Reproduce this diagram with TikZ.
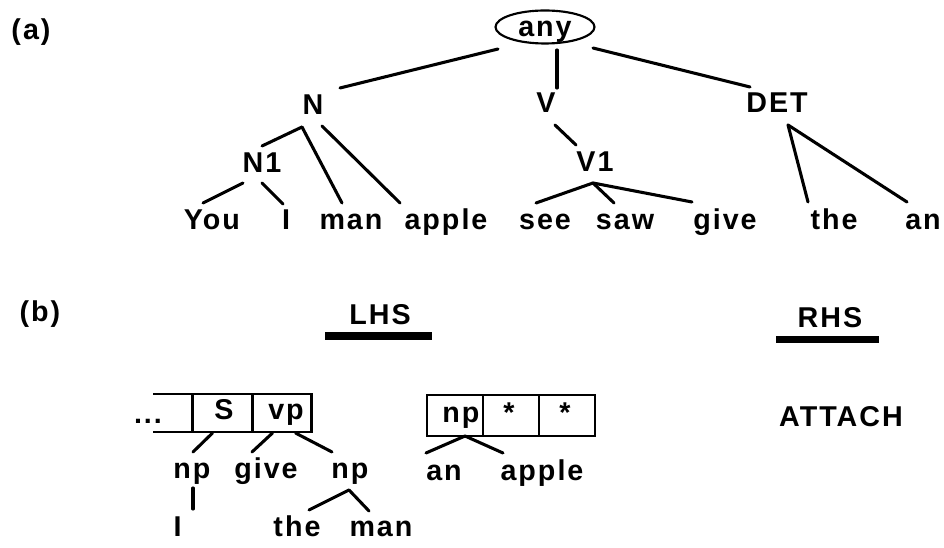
\documentclass[tikz,border=0pt]{standalone}
\usepackage{fontspec}
\newfontfamily\lbf{Liberation Sans}[LetterSpace=7]
\usetikzlibrary{shapes.geometric}
\begin{document}
\begin{tikzpicture}[x=0.75pt,y=-0.75pt,
  lbl/.style={font=\lbf\bfseries\fontsize{21.5}{25}\selectfont, inner sep=0pt, anchor=base, text height=15pt, text depth=0pt},
  tl/.style={line width=2.3pt, line cap=round},
  bl/.style={line width=1.6pt},
  cellbox/.style={draw, line width=1.6pt, minimum height=38*0.75pt, inner sep=0pt, outer sep=0pt},
  rcellbox/.style={draw, line width=1.6pt, minimum width=56*0.75pt, minimum height=41*0.75pt, inner sep=0pt, outer sep=0pt},
  barbox/.style={fill=black, inner sep=0pt}]
\useasboundingbox (0,0) rectangle (944,548);
% ---------- (a) ----------
\node[lbl] (la) at (31,40) {(a)};
\node[draw, ellipse, line width=1.6pt, minimum width=99*0.75pt, minimum height=33*0.75pt, inner sep=0pt,
      font=\lbf\bfseries\fontsize{21.5}{25}\selectfont, text height=15pt, text depth=0pt] (any) at (545,27) {any};
\node[lbl] (N) at (313,115) {N};
\node[lbl] (V) at (546,113) {V};
\node[lbl] (DET) at (777,113) {DET};
\node[lbl] (N1) at (262,173) {N1};
\node[lbl] (V1) at (595,172) {V1};
\node[lbl] (you) at (212,230) {You};
\node[lbl] (i) at (286,230) {I};
\node[lbl] (man) at (351,230) {man};
\node[lbl] (apple) at (446,230) {apple};
\node[lbl] (see) at (545,230) {see};
\node[lbl] (saw) at (625,230) {saw};
\node[lbl] (give) at (725,230) {give};
\node[lbl] (the) at (834,230) {the};
\node[lbl] (an) at (923,230) {an};
\draw[tl] ([shift={(-47,22)}]any.center) -- ([shift={(27,-27)}]N.base);
\draw[tl] ([shift={(12,23)}]any.center) -- ([shift={(11,-25)}]V.base);
\draw[tl] ([shift={(48,21)}]any.center) -- ([shift={(-27,-26)}]DET.base);
\draw[tl] ([shift={(-11,12)}]N.base) -- ([shift={(0,-27)}]N1.base);
\draw[tl] ([shift={(-11,12)}]N.base) -- ([shift={(-9,-27)}]man.base);
\draw[tl] ([shift={(9,11)}]N.base) -- ([shift={(-46,-27)}]apple.base);
\draw[tl] ([shift={(-19,10)}]N1.base) -- ([shift={(-9,-27)}]you.base);
\draw[tl] ([shift={(0,10)}]N1.base) -- ([shift={(-3,-26)}]i.base);
\draw[tl] ([shift={(9,12)}]V.base) -- ([shift={(-19,-27)}]V1.base);
\draw[tl] ([shift={(-2,11)}]V1.base) -- ([shift={(-9,-27)}]see.base);
\draw[tl] ([shift={(-2,11)}]V1.base) -- ([shift={(-11,-27)}]saw.base);
\draw[tl] ([shift={(-2,11)}]V1.base) -- ([shift={(-33,-28)}]give.base);
\draw[tl] ([shift={(11,12)}]DET.base) -- ([shift={(-26,-28)}]the.base);
\draw[tl] ([shift={(11,12)}]DET.base) -- ([shift={(-16,-28)}]an.base);
% ---------- (b) ----------
\node[lbl] (lb) at (40,322) {(b)};
\node[lbl] (lhs) at (380,325) {LHS};
\node[barbox, minimum width=107*0.75pt, minimum height=8*0.75pt] (lhsbar) at (378.5,336) {};
\node[lbl] (rhs) at (830,328) {RHS};
\node[barbox, minimum width=103*0.75pt, minimum height=7*0.75pt] (rhsbar) at (827.5,339.5) {};
\node[lbl] (attach) at (841,426) {ATTACH};
% left buffer
\node[cellbox, minimum width=60*0.75pt] (scell) at (222.5,413) {};
\node[cellbox, minimum width=59*0.75pt] (vpcell) at (282,413) {};
\coordinate (opentop) at (153,394);
\coordinate (openbot) at (153,432);
\draw[bl] (opentop) -- (scell.north west);
\draw[bl] (openbot) -- (scell.south west);
\node[lbl] (dots) at (148,423) {...};
\node[lbl] (S) at (224,419) {S};
\node[lbl] (vp) at (286,419) {vp};
\node[lbl] (np1) at (192,478) {np};
\node[lbl] (give2) at (266,478) {give};
\node[lbl] (np2) at (350,478) {np};
\node[lbl] (i2) at (177.5,536) {I};
\node[lbl] (the2) at (297,536) {the};
\node[lbl] (man2) at (381,536) {man};
\draw[tl] ([shift={(-10,1)}]scell.south) -- ([shift={(1,-26)}]np1.base);
\draw[tl] ([shift={(-9.5,1)}]vpcell.south) -- ([shift={(-14,-26)}]give2.base);
\draw[tl] ([shift={(13.5,1)}]vpcell.south) -- ([shift={(-18,-26)}]np2.base);
\draw[tl] ([shift={(1,10)}]np1.base) -- ([shift={(15.5,-27)}]i2.base);
\draw[tl] ([shift={(-1,12)}]np2.base) -- ([shift={(12,-26)}]the2.base);
\draw[tl] ([shift={(-1,12)}]np2.base) -- ([shift={(-12,-25)}]man2.base);
% right buffer
\node[rcellbox] (c1) at (455,415.5) {};
\node[rcellbox] (c2) at (511,415.5) {};
\node[rcellbox] (c3) at (567,415.5) {};
\node[lbl] (npr) at (461,422) {np};
\node[lbl] (star1) at (509,422) {*};
\node[lbl] (star2) at (565,422) {*};
\node[lbl] (anr) at (444,480) {an};
\node[lbl] (appler) at (542,480) {apple};
\draw[tl] ([shift={(10,0)}]c1.south) -- ([shift={(-18,-27)}]anr.base);
\draw[tl] ([shift={(10,0)}]c1.south) -- ([shift={(-39,-27)}]appler.base);
\end{tikzpicture}
\end{document}
